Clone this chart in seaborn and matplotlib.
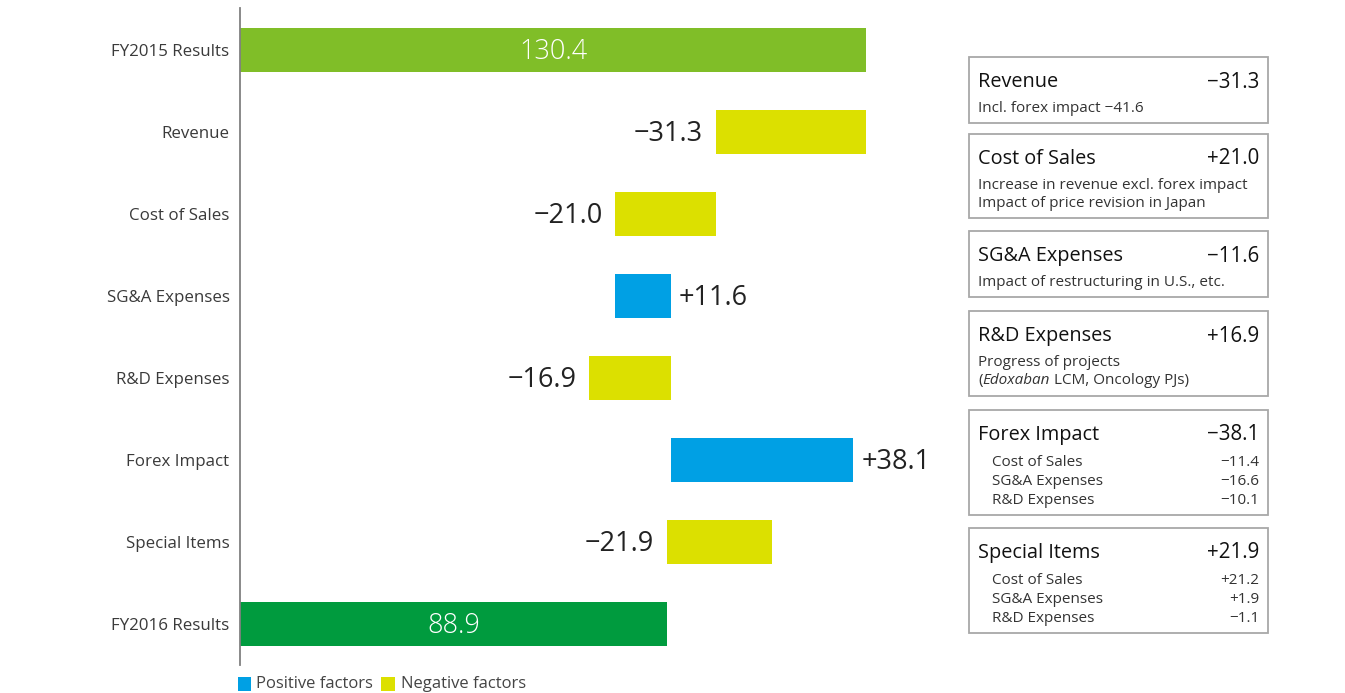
import matplotlib
matplotlib.use("Agg")
import matplotlib.pyplot as plt
from matplotlib.patches import Rectangle
import seaborn as sns
import pandas as pd

# ---- data -------------------------------------------------------------
categories = ["FY2015 Results", "Revenue", "Cost of Sales", "SG&A Expenses",
              "R&D Expenses", "Forex Impact", "Special Items", "FY2016 Results"]
bar_start = [0.0, 99.1, 78.1, 78.1, 72.8, 89.7, 88.9, 0.0]
bar_change = [130.4, 31.3, 21.0, 11.6, 16.9, 38.1, 21.9, 88.9]
bar_kind = ["total15", "neg", "neg", "pos", "neg", "pos", "neg", "total16"]
bar_labels = ["130.4", "\u221231.3", "\u221221.0", "+11.6", "\u221216.9", "+38.1",
              "\u221221.9", "88.9"]

box_titles = ["Revenue", "Cost of Sales", "SG&A Expenses", "R&D Expenses",
              "Forex Impact", "Special Items"]
box_values = ["\u221231.3", "+21.0", "\u221211.6", "+16.9", "\u221238.1", "+21.9"]
box_notes = [
    [["Incl. forex impact \u221241.6"]],
    [["Increase in revenue excl. forex impact"], ["Impact of price revision in Japan"]],
    [["Impact of restructuring in U.S., etc."]],
    [["Progress of projects"], ["(", ("Edoxaban",), " LCM, Oncology PJs)"]],
    [], [],
]
box_items = [
    [], [], [], [],
    [("Cost of Sales", "\u221211.4"), ("SG&A Expenses", "\u221216.6"), ("R&D Expenses", "\u221210.1")],
    [("Cost of Sales", "+21.2"), ("SG&A Expenses", "+1.9"), ("R&D Expenses", "\u22121.1")],
]

colors = {"total15": "#80BE28", "total16": "#009B3E", "pos": "#00A0E4", "neg": "#DCE000"}

# ---- style ------------------------------------------------------------
sns.set_theme(style="white")
FONT = ["Open Sans", "DejaVu Sans"]
plt.rcParams["font.family"] = FONT

W, H = 1345, 693
fig = plt.figure(figsize=(W / 100, H / 100), dpi=100)
ax = fig.add_axes([240 / W, 28 / H, 720 / W, 657 / H])

df = pd.DataFrame({"category": categories, "change": bar_change, "kind": bar_kind})
sns.barplot(data=df, x="change", y="category", hue="category", order=categories,
            palette=[colors[k] for k in bar_kind], width=0.537, legend=False,
            saturation=1, ax=ax, orient="h")

# shift each bar so it starts where the previous step left off
for p in ax.patches:
    i = int(round(p.get_y() + p.get_height() / 2))
    p.set_x(bar_start[i])
    p.set_linewidth(0)

ax.set_xlim(0, 150)
ax.set_ylim(7.5, -0.51)
ax.set_xlabel("")
ax.set_ylabel("")
ax.set_xticks([])
for s in ["top", "right", "bottom"]:
    ax.spines[s].set_visible(False)
ax.spines["left"].set_color("#808080")
ax.spines["left"].set_linewidth(1.3)
ax.tick_params(axis="y", length=0, pad=7.5, labelsize=12.2, labelcolor="#3a3a3a")

# value labels
LBL = 19.5
for i, (s, c, k, lab) in enumerate(zip(bar_start, bar_change, bar_kind, bar_labels)):
    if k.startswith("total"):
        ax.annotate(lab, (s + c / 2, i), xytext=(0, -1.5), textcoords="offset points",
                    ha="center", va="center", color="white", fontsize=LBL,
                    fontweight="light")
    elif k == "neg":
        ax.annotate(lab, (s, i), xytext=(-9, -1.5), textcoords="offset points",
                    ha="right", va="center", fontsize=LBL, color="#222222")
    else:
        ax.annotate(lab, (s + c, i), xytext=(6, -1.5), textcoords="offset points",
                    ha="left", va="center", fontsize=LBL, color="#222222")

# ---- explanation boxes -------------------------------------------------
box_tops = [57, 134, 231, 311, 410, 528]
box_bottoms = [123, 218, 297, 396, 515, 633]
bx0, bx1 = 969, 1268
NOTE = 11.0


def fx(px):
    return px / W


def fy(py):
    return 1 - py / H


renderer = fig.canvas.get_renderer()

for t, b, title, val, notes, items in zip(box_tops, box_bottoms, box_titles,
                                          box_values, box_notes, box_items):
    fig.patches.append(Rectangle((fx(bx0), fy(b)), fx(bx1) - fx(bx0), fy(t) - fy(b),
                                 transform=fig.transFigure, fill=False,
                                 edgecolor="#a8a8a8", linewidth=1.3))
    fig.text(fx(978), fy(t + 25), title, ha="left", va="center", fontsize=14.3,
             color="#111111")
    fig.text(fx(1259), fy(t + 25), val, ha="right", va="center", fontsize=14.8,
             color="#111111")
    y = t + 51.5
    for parts in notes:
        x = 978
        for part in parts:
            italic = isinstance(part, tuple)
            s = part[0] if italic else part
            txt = fig.text(fx(x), fy(y), s, ha="left", va="center", fontsize=NOTE,
                           color="#333333", style="italic" if italic else "normal")
            x += txt.get_window_extent(renderer).width
        y += 18
    y = t + 53
    for name, v in items:
        fig.text(fx(992), fy(y), name, ha="left", va="center", fontsize=NOTE,
                 color="#333333")
        fig.text(fx(1259), fy(y), v, ha="right", va="center", fontsize=NOTE,
                 color="#333333")
        y += 18.5

# ---- legend -----------------------------------------------------------
fig.patches.append(Rectangle((fx(238), fy(691)), fx(13), 14 / H,
                             transform=fig.transFigure, color=colors["pos"], lw=0))
fig.text(fx(256), fy(684), "Positive factors", ha="left", va="center", fontsize=12,
         color="#444444")
fig.patches.append(Rectangle((fx(381), fy(691)), fx(14), 14 / H,
                             transform=fig.transFigure, color=colors["neg"], lw=0))
fig.text(fx(401), fy(684), "Negative factors", ha="left", va="center", fontsize=12,
         color="#444444")

fig.savefig("out.png", dpi=100)
